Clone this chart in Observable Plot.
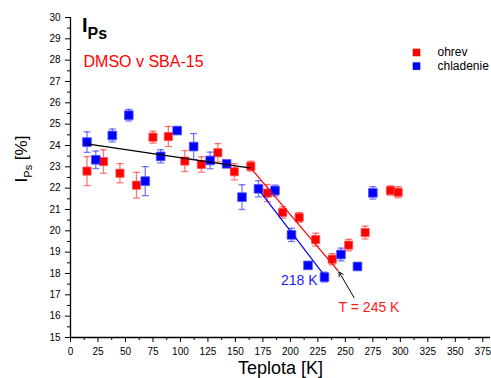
<!DOCTYPE html>
<html>
<head>
<meta charset="utf-8">
<script src="https://cdn.jsdelivr.net/npm/d3@7"></script>
<script src="https://cdn.jsdelivr.net/npm/@observablehq/plot@0.6"></script>
<style>
  html, body { margin: 0; padding: 0; background: #fff; }
  #chart { width: 491px; height: 378px; }
</style>
</head>
<body>
<div id="chart"></div>
<script>
// ohrev (heating) - red
const ohrevT   = [15, 30, 45, 60, 75, 89, 104, 119, 134, 149, 164, 179, 193, 208, 223, 238, 253, 268, 291, 298];
const ohrevI   = [22.80, 23.25, 22.70, 22.14, 24.39, 24.42, 23.27, 23.11, 23.66, 22.77, 23.03, 21.77, 20.86, 20.63, 19.59, 18.67, 19.33, 19.92, 21.89, 21.81];
const ohrevErr = [0.68, 0.55, 0.45, 0.60, 0.28, 0.47, 0.49, 0.36, 0.43, 0.38, 0.23, 0.40, 0.27, 0.23, 0.30, 0.26, 0.27, 0.30, 0.22, 0.26];
// chladenie (cooling) - blue
const chladT   = [15, 23, 38, 53, 68, 82, 97, 112, 127, 142, 156, 171, 186, 201, 216, 231, 246, 261, 275];
const chladI   = [24.16, 23.33, 24.47, 25.42, 22.33, 23.49, 24.70, 23.95, 23.30, 23.14, 21.58, 21.97, 21.89, 19.81, 18.38, 17.83, 18.89, 18.33, 21.78];
const chladErr = [0.48, 0.41, 0.30, 0.27, 0.68, 0.31, 0.12, 0.61, 0.39, 0.12, 0.58, 0.38, 0.25, 0.31, 0.10, 0.23, 0.30, 0.10, 0.29];
// fitted lines
const fitBlackT = [15, 164];
const fitBlackI = [24.08, 22.94];
const fitRedT   = [164, 243.4];
const fitRedI   = [22.94, 18.12];
const fitBlueT  = [171.3, 233];
const fitBlueI  = [21.92, 17.77];
// annotations
const arrowFrom = {T: 257.9, I: 16.87};
const arrowTo   = {T: 244.3, I: 18.07};
const labels = [
  {T: 208, I: 17.67, text: "218 K", color: "#1a1aff"},
  {T: 271.5, I: 16.41, text: "T = 245 K", color: "#ff1a1a"}
];
const legendItems = ["ohrev", "chladenie"];
const legendColors = ["#ff0000", "#0000ff"];
const xTicks = d3.range(0, 376, 25);
const yTicks = d3.range(15, 30.01, 1);

const ohrev = ohrevT.map((t, i) => ({T: t, I: ohrevI[i], e: ohrevErr[i]}));
const chlad = chladT.map((t, i) => ({T: t, I: chladI[i], e: chladErr[i]}));
const line = (ts, is) => ts.map((t, i) => ({T: t, I: is[i]}));

const cap = {draw(ctx, size) { const w = Math.sqrt(size / Math.PI); ctx.moveTo(-w, 0); ctx.lineTo(w, 0); }};

function errMarks(data, color) {
  return [
    Plot.ruleX(data, {x: "T", y1: d => d.I - d.e, y2: d => d.I + d.e, stroke: color, strokeOpacity: 0.6, strokeWidth: 1.3}),
    Plot.dot(data, {x: "T", y: d => d.I - d.e, symbol: cap, r: 3.5, stroke: color, strokeOpacity: 0.6, strokeWidth: 1.3}),
    Plot.dot(data, {x: "T", y: d => d.I + d.e, symbol: cap, r: 3.5, stroke: color, strokeOpacity: 0.6, strokeWidth: 1.3})
  ];
}

const legendMarks = legendItems.flatMap((name, i) => [
  Plot.dot([name], {frameAnchor: "top-right", dx: -74, dy: 35 + i * 13.6, symbol: "square", r: 4.3, fill: legendColors[i]}),
  Plot.text([name], {frameAnchor: "top-right", dx: -53, dy: 35 + i * 13.6, text: d => d, textAnchor: "start", fontSize: 12, lineAnchor: "middle"})
]);

const chart = Plot.plot({
  width: 491,
  height: 378,
  marginLeft: 70,
  marginRight: 1,
  marginTop: 17,
  marginBottom: 41,
  style: {fontFamily: "'Liberation Sans', Arial, sans-serif", fontSize: "10px", background: "white", color: "black"},
  x: {domain: [0, 382]},
  y: {domain: [15, 30]},
  marks: [
    // minor ticks
    Plot.axisX(d3.range(12.5, 382, 25), {tickSize: 3, text: null, label: null, strokeWidth: 1}),
    Plot.axisY(d3.range(15.5, 30, 1), {tickSize: 3, text: null, label: null, strokeWidth: 1}),
    // major ticks
    Plot.axisX(xTicks, {tickSize: 5, tickPadding: 5, label: null, fontSize: 10, strokeWidth: 1}),
    Plot.axisY(yTicks, {tickSize: 5, tickPadding: 5, label: null, fontSize: 10, strokeWidth: 1}),
    Plot.ruleX([0], {stroke: "black", strokeWidth: 1.3}),
    Plot.ruleY([15], {stroke: "black", strokeWidth: 1.3}),
    ...errMarks(ohrev, "#ff2020"),
    ...errMarks(chlad, "#2020ff"),
    Plot.dot(ohrev, {x: "T", y: "I", symbol: "square", r: 4.6, fill: "#ff0000", stroke: "#ff5050", strokeWidth: 0.8}),
    Plot.dot(chlad, {x: "T", y: "I", symbol: "square", r: 4.9, fill: "#0000ff", stroke: "#5050ff", strokeWidth: 0.8}),
    Plot.line(line(fitBlackT, fitBlackI), {x: "T", y: "I", stroke: "black", strokeWidth: 1.2}),
    Plot.line(line(fitRedT, fitRedI), {x: "T", y: "I", stroke: "#ff0000", strokeWidth: 1.2}),
    Plot.line(line(fitBlueT, fitBlueI), {x: "T", y: "I", stroke: "#0000ff", strokeWidth: 1.2}),
    Plot.arrow([{}], {x1: arrowFrom.T, y1: arrowFrom.I, x2: arrowTo.T, y2: arrowTo.I, stroke: "black", strokeWidth: 1, headLength: 7}),
    Plot.text(labels, {x: "T", y: "I", text: "text", fill: "color", fontSize: 14, textAnchor: "middle"}),
    ...legendMarks,
    // subtitle
    Plot.text(["DMSO v SBA-15"], {frameAnchor: "top-left", dx: 13, dy: 44, text: d => d, fill: "#ff0000", fontSize: 16, textAnchor: "start", lineAnchor: "middle"}),
    // x label
    Plot.text(["Teplota [K]"], {frameAnchor: "bottom", dy: 36, text: d => d, fontSize: 18, lineAnchor: "bottom"})
  ]
});

const svg = d3.select(chart);
// title I_Ps
const title = svg.append("text")
  .attr("x", 82).attr("y", 32).attr("text-anchor", "start")
  .attr("font-weight", "bold").attr("font-size", 20).attr("fill", "black");
title.append("tspan").text("I");
title.append("tspan").attr("font-size", 16).attr("dy", 7).text("Ps");

// y label I_Ps [%]
const yl = svg.append("text")
  .attr("transform", "translate(27,159) rotate(-90)")
  .attr("text-anchor", "middle").attr("font-size", 17).attr("fill", "black");
yl.append("tspan").text("I");
yl.append("tspan").attr("font-size", 11).attr("dy", 5).text("Ps");
yl.append("tspan").attr("dy", -5).text(" [%]");

document.getElementById("chart").appendChild(chart);
</script>
</body>
</html>
